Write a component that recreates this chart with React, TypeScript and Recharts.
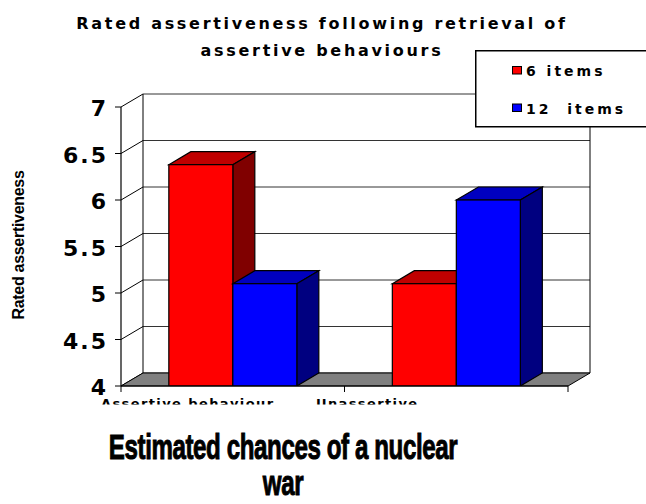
import React from 'react';
import { BarChart, Bar, XAxis, YAxis, CartesianGrid, Legend, ReferenceArea } from 'recharts';

// chart values
const categories = ['Assertive behaviour', 'Unassertive'];
const sixItems = [6.38, 5.1];
const twelveItems = [5.1, 6.0];
const seriesNames = ['6 items', '12  items'];
const yTicks = [4, 4.5, 5, 5.5, 6, 6.5, 7];

const data = categories.map((name, i) => ({ name, six: sixItems[i], twelve: twelveItems[i] }));

const W = 646;
const H = 504;
// 3D depth offset of the pseudo-perspective
const DX = 22;
const DY = -13;
const VERDANA = '"DejaVu Sans", Verdana, sans-serif';
const ARIAL = '"Liberation Sans", Arial, sans-serif';
// horizontal shift of each category label (the original's labels sit left of centre)
const LABEL_DX = [-45, -89];

const make3D = (front: string, top: string, side: string) => (props: any) => {
  const { x, y, width, height } = props;
  if (width == null || height == null) return <g />;
  const r = x + width;
  const b = y + height;
  return (
    <g>
      <polygon points={`${x},${y} ${x + DX},${y + DY} ${r + DX},${y + DY} ${r},${y}`} fill={top} stroke="#000" strokeWidth={1.2} />
      <polygon points={`${r},${y} ${r + DX},${y + DY} ${r + DX},${b + DY} ${r},${b}`} fill={side} stroke="#000" strokeWidth={1.2} />
      <rect x={x} y={y} width={width} height={height} fill={front} stroke="#000" strokeWidth={1.2} />
    </g>
  );
};

// back wall gridline + diagonal on the side wall
const gridLine = (p: any) => {
  const { x1, x2, y1 } = p;
  return (
    <g key={p.key ?? `gl-${y1}`}>
      <line x1={x1} y1={y1} x2={x1 + DX} y2={y1 + DY} stroke="#000" strokeWidth={1} />
      <line x1={x1 + DX} y1={y1 + DY} x2={x2 + DX} y2={y1 + DY} stroke="#333" strokeWidth={1} />
    </g>
  );
};

// floor and back wall edges, sized from the plot area
const wallShape = (p: any) => {
  const { x, y, width, height } = p;
  const r = x + width;
  const b = y + height;
  return (
    <g>
      <polygon points={`${x},${b} ${r},${b} ${r + DX},${b + DY} ${x + DX},${b + DY}`} fill="#808080" stroke="#000" strokeWidth={1} />
      <line x1={x + DX} y1={y + DY} x2={x + DX} y2={b + DY} stroke="#000" strokeWidth={1} />
      <line x1={r + DX} y1={y + DY} x2={r + DX} y2={b + DY} stroke="#000" strokeWidth={1} />
    </g>
  );
};

const YTick = (p: any) => {
  const { x, y, payload } = p;
  return (
    <text x={x - 5} y={y + 9} textAnchor="end" fontFamily={VERDANA} fontWeight="bold" fontSize={22} letterSpacing={2} fill="#000">
      {payload.value}
    </text>
  );
};

const CatTick = (p: any) => {
  const { x, y, payload, index, width, visibleTicksCount } = p;
  const half = payload?.offset || (width && visibleTicksCount ? width / visibleTicksCount / 2 : 0);
  const id = `catclip-${index}`;
  return (
    <g>
      <line x1={x - half} y1={y} x2={x - half} y2={y + 6} stroke="#000" />
      {index === (visibleTicksCount ?? 1) - 1 && <line x1={x + half} y1={y} x2={x + half} y2={y + 6} stroke="#000" />}
      <clipPath id={id}>
        <rect x={0} y={y} width={W} height={18.5} />
      </clipPath>
      <text
        clipPath={`url(#${id})`}
        x={x + (LABEL_DX[index] ?? 0)}
        y={y + 21.5}
        textAnchor="middle"
        fontFamily={VERDANA}
        fontWeight="bold"
        fontSize={13}
        letterSpacing={1.4}
        fill="#000"
      >
        {payload.value}
      </text>
    </g>
  );
};

const LegendBox = (props: any) => {
  const payload = [...(props.payload || [])].sort(
    (a: any, b: any) => seriesNames.indexOf(a.value) - seriesNames.indexOf(b.value)
  );
  return (
    <svg width={171} height={78} style={{ display: 'block' }}>
      <path d="M171,0.75 H0.75 V76.75 H171" fill="#fff" stroke="#000" strokeWidth={1.5} />
      {payload.map((item: any, i: number) => (
        <g key={i}>
          <rect x={37.5} y={16.5 + i * 37.5} width={9} height={7.5} fill={item.color} stroke="#000" strokeWidth={1} />
          <text x={51} y={25.7 + i * 38.3} fontFamily={VERDANA} fontWeight="bold" fontSize={14} letterSpacing={3} fill="#000" style={{ whiteSpace: 'pre' }}>
            {item.value}
          </text>
        </g>
      ))}
    </svg>
  );
};

export default function App() {
  return (
    <div style={{ position: 'absolute', left: 0, top: 0, width: W, height: H, overflow: 'hidden', background: '#fff' }}>
      <BarChart
        width={W}
        height={H}
        data={data}
        margin={{ top: 107, right: 78, bottom: 0, left: 0 }}
        barCategoryGap="21.4%"
        barGap={0}
      >
        <CartesianGrid vertical={false} horizontal={gridLine} />
        <ReferenceArea y1={4} y2={7} ifOverflow="visible" shape={wallShape} zIndex={-50} />
        <XAxis
          dataKey="name"
          height={118}
          interval={0}
          tickSize={0}
          tickMargin={0}
          axisLine={{ stroke: '#000', strokeWidth: 1.2 }}
          tickLine={false}
          tick={CatTick}
        />
        <YAxis
          type="number"
          domain={[4, 7]}
          ticks={yTicks}
          interval={0}
          width={121}
          tickSize={6}
          axisLine={{ stroke: '#000', strokeWidth: 1.2 }}
          tickLine={{ stroke: '#000' }}
          tick={YTick}
          allowDataOverflow
        />
        <Legend
          layout="vertical"
          align="center"
          verticalAlign="middle"
          wrapperStyle={{ left: 475, top: 50, width: 171 }}
          content={LegendBox}
        />
        <Bar dataKey="six" name={seriesNames[0]} fill="#ff0000" shape={make3D('#ff0000', '#c00000', '#800000')} isAnimationActive={false} />
        <Bar dataKey="twelve" name={seriesNames[1]} fill="#0000ff" shape={make3D('#0000ff', '#0000c0', '#000080')} isAnimationActive={false} />
      </BarChart>
      <svg width={W} height={H} style={{ position: 'absolute', left: 0, top: 0, pointerEvents: 'none' }}>
        <g fontFamily={VERDANA} fontWeight="bold" fontSize={16} letterSpacing={2.7} fill="#000" textAnchor="middle">
          <text x={322} y={29}>Rated assertiveness following retrieval of</text>
          <text x={322} y={56}>assertive behaviours</text>
        </g>
        <text
          transform="translate(24,245) rotate(-90)"
          textAnchor="middle"
          fontFamily={ARIAL}
          fontWeight="bold"
          fontSize={16}
          letterSpacing={-0.3}
          fill="#000"
        >
          Rated assertiveness
        </text>
        <g fontFamily={ARIAL} fontWeight="bold" fontSize={36} fill="#000" stroke="#000" strokeWidth={1} textAnchor="middle" letterSpacing={-0.6}>
          <text transform="translate(283,459) scale(0.67,1)">Estimated chances of a nuclear</text>
          <text transform="translate(283,495) scale(0.67,1)">war</text>
        </g>
      </svg>
    </div>
  );
}
